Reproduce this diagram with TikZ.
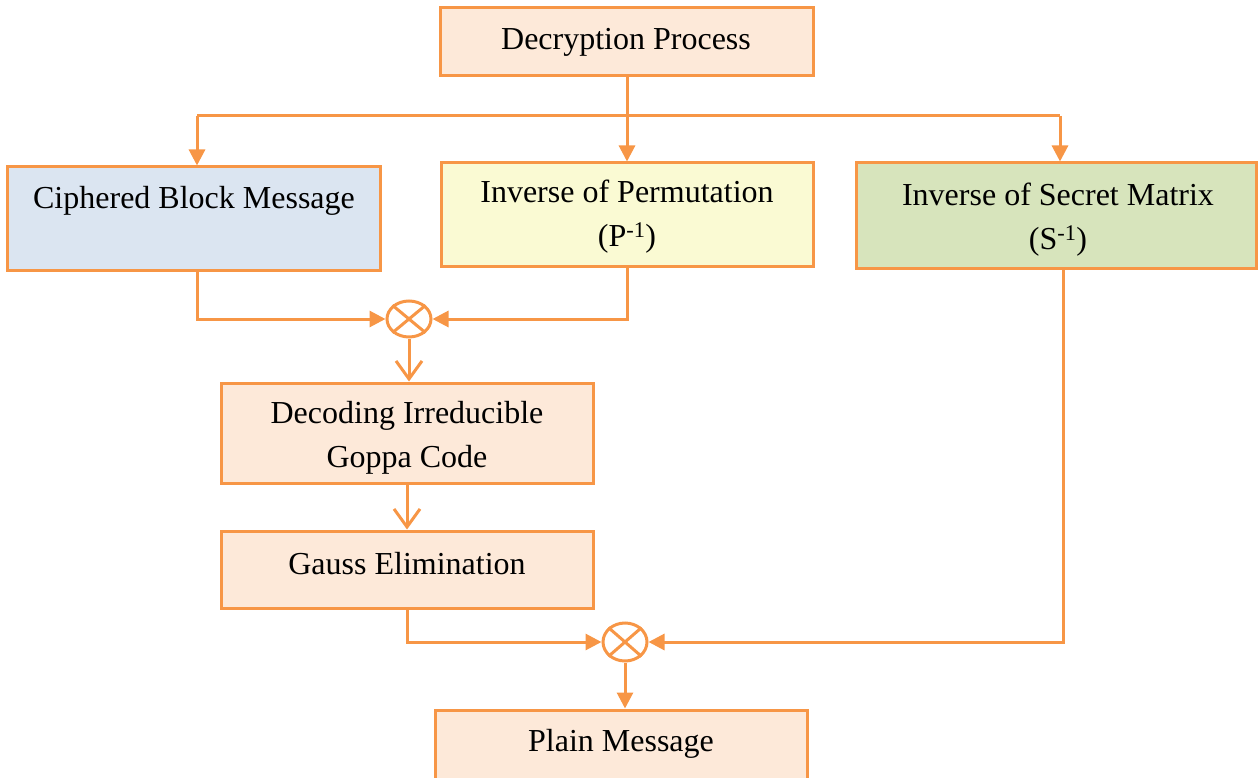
\documentclass[tikz,border=0pt]{standalone}
\usepackage{fontspec}
\setmainfont{Liberation Serif}
\usetikzlibrary{arrows.meta,shapes.geometric}
\definecolor{ora}{HTML}{F79646}
\definecolor{peach}{HTML}{FDE9D9}
\definecolor{bluef}{HTML}{DBE5F1}
\definecolor{yelf}{HTML}{FAFAD3}
\definecolor{grnf}{HTML}{D7E4BC}
\tikzset{
  box/.style={draw=ora, line width=3pt, rectangle, inner sep=0pt},
  lbl/.style={font=\fontsize{32}{44}\selectfont, align=center, inner sep=0pt, anchor=center},
  mult/.style={draw=ora, line width=3pt, ellipse, minimum width=44pt, minimum height=36pt, inner sep=0pt},
  conn/.style={draw=ora, line width=3pt, -{Triangle[length=16pt,width=16pt]}},
  conno/.style={draw=ora, line width=3pt, -{Straight Barb[length=18pt,width=26pt,line width=3pt]}},
  plain/.style={draw=ora, line width=3pt}
}
\begin{document}
\begin{tikzpicture}[x=1pt,y=-1pt]
\useasboundingbox (0,0) rectangle (1258,778);
% boxes
\node[box, fill=peach, minimum width=373pt, minimum height=68pt] (dec) at (626.5,42) {};
\node[box, fill=bluef, minimum width=373pt, minimum height=103pt] (cip) at (193.5,218.5) {};
\node[box, fill=yelf, minimum width=372pt, minimum height=103pt] (invp) at (627,214.5) {};
\node[box, fill=grnf, minimum width=400pt, minimum height=105pt] (invs) at (1056,215.5) {};
\node[box, fill=peach, minimum width=372pt, minimum height=100pt] (goppa) at (407,433) {};
\node[box, fill=peach, minimum width=372pt, minimum height=77pt] (gauss) at (407,569.5) {};
\node[box, fill=peach, minimum width=372pt, minimum height=70pt] (plainm) at (621,745) {};
% labels
\node[lbl] (tdec) at (626,42) {Decryption Process};
\node[lbl] (tcip) at (194,201) {Ciphered Block Message};
\node[lbl] (tinvp) at (627,217) {Inverse of Permutation\\(P\textsuperscript{-1})};
\node[lbl] (tinvs) at (1058,220) {Inverse of Secret Matrix\\(S\textsuperscript{-1})};
\node[lbl] (tgoppa) at (407,438) {Decoding Irreducible\\Goppa Code};
\node[lbl] (tgauss) at (407,564) {Gauss Elimination};
\node[lbl] (tplain) at (621,744) {Plain Message};
% multipliers
\node[mult] (m1) at (409,319) {};
\draw[plain] (m1.north west) -- (m1.south east);
\draw[plain] (m1.north east) -- (m1.south west);
\node[mult, minimum height=38pt] (m2) at (625,642) {};
\draw[plain] (m2.north west) -- (m2.south east);
\draw[plain] (m2.north east) -- (m2.south west);
% coordinates
\coordinate (split) at (627,116);
% connectors
\draw[plain] (dec.south -| split) -- (split);
\draw[plain] (197,116) -- (1060,116);
\draw[conn] (197,116) -- (cip.north -| 197,0);
\draw[conn] (split) -- (invp.north -| split);
\draw[conn] (1060,116) -- (invs.north -| 1060,0);
\draw[conn] (cip.south -| 197,0) |- (m1.west);
\draw[conn] (invp.south -| 627,0) |- (m1.east);
\draw[conno] (m1.south) -- (goppa.north -| m1.south);
\draw[conno] (goppa.south) -- (gauss.north);
\draw[conn] (gauss.south) |- (m2.west);
\draw[conn] (invs.south -| 1063,0) |- (m2.east);
\draw[conn] (m2.south) -- (plainm.north -| m2.south);
\end{tikzpicture}
\end{document}
